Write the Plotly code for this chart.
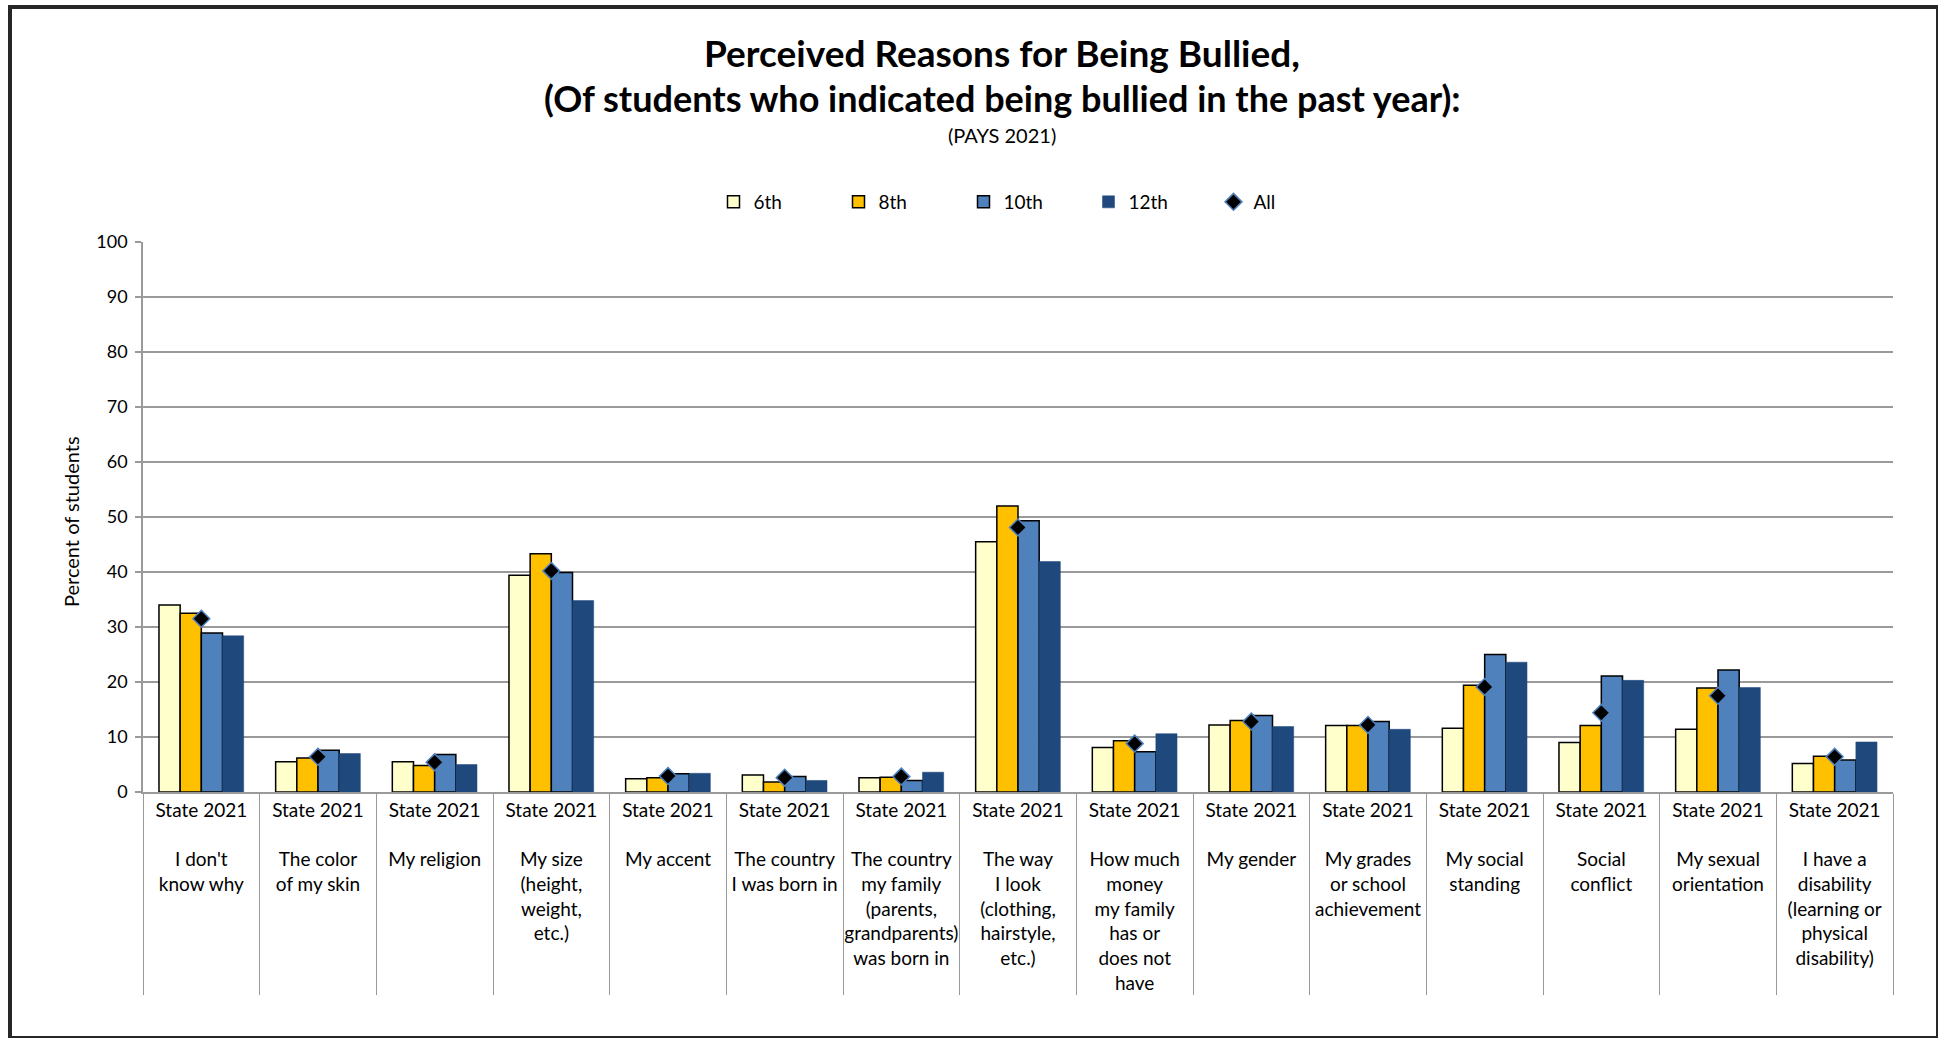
import plotly.graph_objects as go

# ---- data ----
reasons = [
    "I don't<br>know why",
    "The color<br>of my skin",
    "My religion",
    "My size<br>(height,<br>weight,<br>etc.)",
    "My accent",
    "The country<br>I was born in",
    "The country<br>my family<br>(parents,<br>grandparents)<br>was born in",
    "The way<br>I look<br>(clothing,<br>hairstyle,<br>etc.)",
    "How much<br>money<br>my family<br>has or<br>does not<br>have",
    "My gender",
    "My grades<br>or school<br>achievement",
    "My social<br>standing",
    "Social<br>conflict",
    "My sexual<br>orientation",
    "I have a<br>disability<br>(learning or<br>physical<br>disability)",
]
survey = ["State 2021"] * len(reasons)

grade6 = [34.0, 5.5, 5.5, 39.4, 2.4, 3.1, 2.6, 45.5, 8.1, 12.2, 12.1, 11.6, 9.0, 11.4, 5.2]
grade8 = [32.5, 6.2, 4.8, 43.3, 2.6, 1.8, 2.7, 52.0, 9.3, 13.0, 12.1, 19.4, 12.1, 18.9, 6.5]
grade10 = [28.9, 7.6, 6.8, 39.9, 3.3, 2.8, 2.1, 49.3, 7.3, 13.9, 12.8, 25.0, 21.1, 22.2, 5.8]
grade12 = [28.4, 7.0, 5.0, 34.8, 3.4, 2.1, 3.6, 41.9, 10.6, 11.9, 11.4, 23.6, 20.3, 19.0, 9.1]
all_grades = [31.5, 6.4, 5.4, 40.2, 2.9, 2.6, 2.8, 48.1, 8.8, 12.8, 12.2, 19.1, 14.4, 17.5, 6.4]

series_names = ["6th", "8th", "10th", "12th"]
series_values = [grade6, grade8, grade10, grade12]
series_colors = ["#FFFFCC", "#FFC000", "#4F81BD", "#1F497D"]
series_lines = ["#000000", "#000000", "#000000", "#1F497D"]

FONT = "Lato"
# leading blank line gives the gap between "State 2021" and the reason text
x = [["<br>" + r for r in reasons], survey]

fig = go.Figure()
for name, vals, col, lc in zip(series_names, series_values, series_colors, series_lines):
    fig.add_trace(go.Bar(
        name=name, x=x, y=vals,
        marker=dict(color=col, line=dict(color=lc, width=1.5 if lc == "#000000" else 0.5)),
    ))

fig.add_trace(go.Scatter(
    name="All", x=x, y=all_grades, mode="markers",
    marker=dict(symbol="diamond", size=13, color="#000000",
                line=dict(color="#4F81BD", width=1.5)),
))

# plot area: x 143..1893, y 242..792
L, R, T, B = 143, 1893, 242, 792
W, H = 1938, 1038

def px(v):
    return (v - L) / (R - L)

def py(v):
    return (B - v) / (B - T)

fig.update_layout(
    width=W, height=H,
    margin=dict(l=L, r=W - R, t=T, b=H - B, pad=0),
    paper_bgcolor="white", plot_bgcolor="white",
    barmode="group", bargap=0.274, bargroupgap=0,
    font=dict(family=FONT, color="#000000", size=18),
    showlegend=True,
    legend=dict(orientation="h", x=px(1026), y=py(202), xanchor="center", yanchor="middle",
                font=dict(size=19, family=FONT), entrywidth=80, entrywidthmode="pixels",
                traceorder="normal", bgcolor="rgba(0,0,0,0)"),
    annotations=[
        dict(text="<b>Perceived Reasons for Being Bullied,</b>", x=px(1002), y=py(52),
             xref="paper", yref="paper", showarrow=False, xanchor="center", yanchor="middle",
             font=dict(size=37, family=FONT)),
        dict(text="<b>(Of students who indicated being bullied in the past year):</b>", x=px(1002), y=py(98),
             xref="paper", yref="paper", showarrow=False, xanchor="center", yanchor="middle",
             font=dict(size=36, family=FONT)),
        dict(text="(PAYS 2021)", x=px(1002), y=py(135),
             xref="paper", yref="paper", showarrow=False, xanchor="center", yanchor="middle",
             font=dict(size=20, family=FONT)),
        dict(text="Percent of students", x=px(71), y=py(522), textangle=-90,
             xref="paper", yref="paper", showarrow=False, xanchor="center", yanchor="middle",
             font=dict(size=20, family=FONT)),
    ],
    shapes=[
        dict(type="line", xref="paper", yref="paper", x0=px(8), x1=px(1938), y0=py(7), y1=py(7),
             line=dict(color="#262626", width=4)),
        dict(type="line", xref="paper", yref="paper", x0=px(10), x1=px(10), y0=py(5), y1=py(1038),
             line=dict(color="#262626", width=4)),
        dict(type="line", xref="paper", yref="paper", x0=px(1937), x1=px(1937), y0=py(5), y1=py(1038),
             line=dict(color="#262626", width=2)),
        dict(type="line", xref="paper", yref="paper", x0=px(8), x1=px(1938), y0=py(1037), y1=py(1037),
             line=dict(color="#262626", width=2)),
    ],
)

fig.update_yaxes(
    range=[0, 100], dtick=10, showgrid=True, gridcolor="#9A9A9A", gridwidth=1.5,
    showline=True, linecolor="#9A9A9A", linewidth=1.5,
    ticks="outside", ticklen=6, tickcolor="#9A9A9A", tickwidth=1.5,
    ticklabelstandoff=4,
    tickfont=dict(size=18, family=FONT), zeroline=False,
)
fig.update_xaxes(
    type="multicategory", range=[-0.5, len(reasons) - 0.5],
    showline=True, linecolor="#9A9A9A", linewidth=1.5,
    ticks="outside", ticklen=11, tickcolor="#9A9A9A", tickangle=0,
    showdividers=True, dividercolor="#9A9A9A", dividerwidth=1,
    tickfont=dict(size=19, family=FONT), showgrid=False,
)

fig.write_html("out.html", post_script="document.body.style.margin='0';",
               config={"displayModeBar": False})
